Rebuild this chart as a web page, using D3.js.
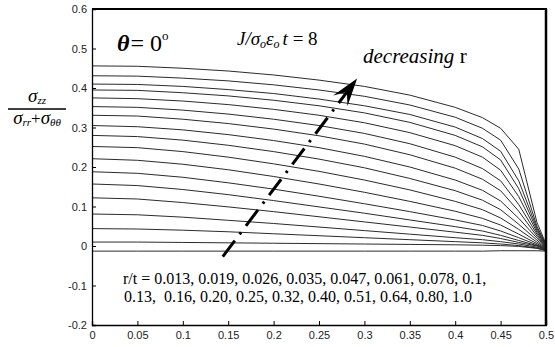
<!DOCTYPE html>
<html><head><meta charset="utf-8">
<script src="https://cdn.jsdelivr.net/npm/d3@7"></script>
<style>body{margin:0;background:#fff} svg{display:block}</style>
</head><body>
<svg id="c" width="555" height="347"></svg>
<script>
// ---------- data ----------
const xNodes = [0, 0.05, 0.1, 0.15, 0.2, 0.25, 0.3, 0.35, 0.4, 0.43, 0.45, 0.47, 0.49, 0.5];
const rOverT = [0.013, 0.019, 0.026, 0.035, 0.047, 0.061, 0.078, 0.1, 0.13, 0.16, 0.20, 0.25, 0.32, 0.40, 0.51, 0.64, 0.80, 1.0];
const s01 = [0.456,0.455,0.450,0.443,0.433,0.420,0.404,0.382,0.351,0.325,0.298,0.245,0.060,0.005];
const s02 = [0.431,0.430,0.425,0.418,0.408,0.395,0.379,0.357,0.326,0.298,0.268,0.195,0.050,0.003];
const s03 = [0.410,0.409,0.404,0.396,0.386,0.372,0.355,0.333,0.301,0.272,0.240,0.165,0.045,0.002];
const s04 = [0.395,0.394,0.388,0.380,0.369,0.355,0.337,0.313,0.280,0.251,0.218,0.145,0.040,0.001];
const s05 = [0.375,0.373,0.367,0.358,0.346,0.331,0.312,0.287,0.254,0.225,0.192,0.125,0.035,0.000];
const s06 = [0.353,0.351,0.344,0.334,0.321,0.305,0.285,0.259,0.225,0.196,0.165,0.105,0.030,-0.001];
const s07 = [0.331,0.329,0.321,0.310,0.296,0.279,0.258,0.231,0.197,0.169,0.140,0.088,0.025,-0.002];
const s08 = [0.305,0.302,0.294,0.282,0.267,0.249,0.227,0.200,0.167,0.141,0.114,0.070,0.020,-0.003];
const s09 = [0.280,0.277,0.268,0.255,0.239,0.220,0.198,0.171,0.140,0.116,0.092,0.055,0.015,-0.004];
const s10 = [0.252,0.249,0.239,0.225,0.208,0.189,0.167,0.142,0.113,0.092,0.071,0.042,0.010,-0.005];
const s11 = [0.221,0.217,0.207,0.193,0.176,0.157,0.136,0.113,0.088,0.070,0.053,0.030,0.006,-0.006];
const s12 = [0.188,0.184,0.174,0.160,0.144,0.126,0.107,0.087,0.066,0.052,0.038,0.021,0.003,-0.007];
const s13 = [0.157,0.153,0.143,0.130,0.115,0.099,0.083,0.066,0.049,0.038,0.027,0.014,0.001,-0.008];
const s14 = [0.122,0.119,0.110,0.099,0.087,0.074,0.061,0.048,0.035,0.027,0.019,0.009,0.000,-0.009];
const s15 = [0.081,0.079,0.073,0.065,0.057,0.048,0.039,0.030,0.021,0.016,0.011,0.005,-0.003,-0.010];
const s16 = [0.044,0.043,0.040,0.036,0.031,0.026,0.021,0.016,0.011,0.008,0.005,0.001,-0.005,-0.011];
const s17 = [0.010,0.010,0.009,0.008,0.007,0.006,0.005,0.004,0.003,0.002,0.001,-0.001,-0.006,-0.012];
const s18 = [-0.013,-0.013,-0.013,-0.013,-0.013,-0.013,-0.013,-0.013,-0.013,-0.013,-0.012,-0.012,-0.012,-0.013];
const seriesValues = [s01,s02,s03,s04,s05,s06,s07,s08,s09,s10,s11,s12,s13,s14,s15,s16,s17,s18];
const xTicks = [0,0.05,0.1,0.15,0.2,0.25,0.3,0.35,0.4,0.45,0.5];
const xTickLabels = ["0","0.05","0.1","0.15","0.2","0.25","0.3","0.35","0.4","0.45","0.5"];
const yTicks = [-0.2,-0.1,0,0.1,0.2,0.3,0.4,0.5,0.6];
const yTickLabels = ["-0.2","-0.1","0","0.1","0.2","0.3","0.4","0.5","0.6"];

// ---------- drawing ----------
const svg = d3.select("#c");
svg.append("rect").attr("width",555).attr("height",347).attr("fill","#fff");
const x = d3.scaleLinear().domain([0,0.5]).range([92,546]);
const y = d3.scaleLinear().domain([-0.2,0.6]).range([325,9]);

const line = d3.line().x((d,i)=>x(xNodes[i])).y(d=>y(d));
svg.append("g").selectAll("path").data(seriesValues).join("path")
  .attr("d", line).attr("fill","none").attr("stroke","#2b2b2b").attr("stroke-width",1);

const tickFont = "'Liberation Sans', Arial, sans-serif";
const gx = svg.append("g").attr("transform",`translate(0,${y(-0.2)})`)
  .call(d3.axisBottom(x).tickValues(xTicks).tickFormat((d,i)=>xTickLabels[i]).tickSize(-4).tickPadding(6));
const gy = svg.append("g").attr("transform",`translate(${x(0)},0)`)
  .call(d3.axisLeft(y).tickValues(yTicks).tickFormat((d,i)=>yTickLabels[i]).tickSize(-4).tickPadding(5));
[gx,gy].forEach(g=>{
  g.selectAll("text").attr("font-family",tickFont).attr("font-size",11).attr("fill","#222");
  g.selectAll("line").attr("stroke","#000");
  g.select(".domain").attr("stroke","#000").attr("stroke-width",1.3);
});
// box (top & right)
svg.append("line").attr("x1",x(0)).attr("x2",x(0.5)+1).attr("y1",y(0.6)).attr("y2",y(0.6)).attr("stroke","#000").attr("stroke-width",2);
svg.append("line").attr("x1",x(0.5)).attr("x2",x(0.5)).attr("y1",y(0.6)).attr("y2",y(-0.2)).attr("stroke","#000").attr("stroke-width",2.5);

// ---------- annotations ----------
const serif = "Liberation Serif";
// theta = 0 deg
const t1 = svg.append("text").attr("x",117).attr("y",51).attr("font-family",serif).attr("font-size",24).attr("fill","#000");
t1.append("tspan").attr("font-style","italic").attr("font-weight","bold").text("θ");
t1.append("tspan").attr("dx",1).text("= 0");
t1.append("tspan").attr("font-size",13).attr("dy",-11).text("o");

// J / sigma_o eps_o t = 8
const t2 = svg.append("text").attr("x",237).attr("y",45).attr("font-family",serif).attr("font-size",19).attr("fill","#000");
t2.append("tspan").attr("font-style","italic").text("J/σ");
t2.append("tspan").attr("font-style","italic").attr("font-size",12).attr("dy",3).text("o");
t2.append("tspan").attr("font-style","italic").attr("dy",-3).text("ε");
t2.append("tspan").attr("font-style","italic").attr("font-size",12).attr("dy",3).text("o");
t2.append("tspan").attr("font-style","italic").attr("dy",-3).attr("dx",3).text("t");
t2.append("tspan").text(" = 8");

// decreasing r
const t3 = svg.append("text").attr("x",363).attr("y",63).attr("font-family",serif).attr("font-size",21).attr("fill","#000");
t3.append("tspan").attr("font-style","italic").text("decreasing");
t3.append("tspan").text(" r");

// y label fraction
const num = svg.append("text").attr("x",37).attr("y",102).attr("text-anchor","middle").attr("font-family",serif).attr("font-size",19).attr("font-style","italic");
num.append("tspan").text("σ");
num.append("tspan").attr("font-size",11).attr("dy",2).text("zz");
svg.append("line").attr("x1",8).attr("x2",66).attr("y1",109).attr("y2",109).attr("stroke","#000").attr("stroke-width",1.5);
const den = svg.append("text").attr("x",37).attr("y",124).attr("text-anchor","middle").attr("font-family",serif).attr("font-size",19).attr("font-style","italic");
den.append("tspan").text("σ");
den.append("tspan").attr("font-size",11).attr("dy",2).text("rr");
den.append("tspan").attr("font-style","normal").attr("font-size",17).attr("dy",-2).text("+");
den.append("tspan").text("σ");
den.append("tspan").attr("font-size",11).attr("dy",2).text("θθ");

// r/t list
const rt = svg.append("text").attr("font-family",serif).attr("font-size",16).attr("fill","#000").style("white-space","pre");
rt.append("tspan").attr("x",123).attr("y",284).text("r/t = " + rOverT.slice(0,8).map(v=>String(v)).join(", ") + ",");
rt.append("tspan").attr("x",124).attr("y",302).text("0.13,  0.16, 0.20, 0.25, 0.32, 0.40, 0.51, 0.64, 0.80, 1.0");

// dash-dot arrow (data coordinates)
const p0 = [x(0.144), y(-0.027)], p1 = [x(0.292), y(0.424)];
const dx = p1[0]-p0[0], dy = p1[1]-p0[1], L = Math.hypot(dx,dy);
const u = [dx/L, dy/L], n = [-u[1], u[0]];
const hl = 28, hw = 9, notch = 17;
const base = [p1[0]-notch*u[0], p1[1]-notch*u[1]];
svg.append("line").attr("x1",p0[0]).attr("y1",p0[1]).attr("x2",base[0]).attr("y2",base[1])
  .attr("stroke","#000").attr("stroke-width",3).attr("stroke-dasharray","20,8,2.5,8");
const hp = [
  p1,
  [p1[0]-hl*u[0]+hw*n[0], p1[1]-hl*u[1]+hw*n[1]],
  base,
  [p1[0]-hl*u[0]-hw*n[0], p1[1]-hl*u[1]-hw*n[1]]
];
svg.append("polygon").attr("points",hp.map(p=>p.join(",")).join(" ")).attr("fill","#000");
</script>
</body></html>
